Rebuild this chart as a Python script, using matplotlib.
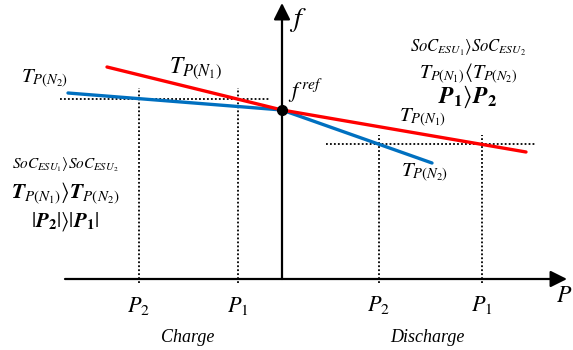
import matplotlib
matplotlib.use("Agg")
import matplotlib.pyplot as plt

plt.rcParams['mathtext.fontset'] = 'stix'
plt.rcParams['font.family'] = ['Liberation Serif', 'DejaVu Serif']

# ---- data (diagram units: P on x, f on y) ----
f_ref = 169
red_P = [-175, 0, 244]          # T_P(N1) droop line
red_f = [212, 169, 127]
blue_P = [-214, 0, 150]         # T_P(N2) droop line
blue_f = [186, 169, 116]

charge_P = [-143, -44]          # P2, P1 (charge)
charge_f = 180
discharge_P = [97, 200]         # P2, P1 (discharge)
discharge_f = 135
tick_labels_charge = [r'$P_2$', r'$P_1$']
tick_labels_discharge = [r'$P_2$', r'$P_1$']

fig = plt.figure(figsize=(5.73, 3.5), dpi=100)
ax = fig.add_axes([0, 0, 1, 1])
ax.set_xlim(-282, 291)
ax.set_ylim(-71, 279)
ax.axis('off')

# axes arrows
arrow_kw = dict(arrowstyle='-|>,head_length=0.5,head_width=0.25', lw=1.6,
                color='black', mutation_scale=20, shrinkA=0, shrinkB=0)
ax.annotate('', xy=(285, 0), xytext=(-217, 0), arrowprops=arrow_kw)
ax.annotate('', xy=(0, 276), xytext=(0, 0), arrowprops=arrow_kw)

# dotted guides
dot = dict(color='black', lw=1.3, linestyle=(0, (1.0, 1.2)))
ax.plot([-222, -12], [charge_f, charge_f], **dot)
ax.plot([44, 254], [discharge_f, discharge_f], **dot)
for p in charge_P:
    ax.plot([p, p], [-4, charge_f + 11], **dot)
for p in discharge_P:
    ax.plot([p, p], [-4, discharge_f + 9], **dot)

# droop lines
ax.plot(red_P, red_f, color='#FF0000', lw=2.4, solid_capstyle='round', zorder=3)
ax.plot(blue_P, blue_f, color='#0070C0', lw=2.4, solid_capstyle='round', zorder=2)
ax.plot([0], [f_ref], 'o', color='black', ms=7, zorder=4)

# labels
ax.text(16, 259, r'$f$', fontsize=20, ha='center', va='center')
ax.text(282, -18, r'$P$', fontsize=17, ha='center', va='center')
ax.text(6, 188, r'$f^{\,ref}$', fontsize=16, ha='left', va='center')
ax.text(-86, 211, r'$T_{P(N_1)}$', fontsize=17, ha='center', va='center')
ax.text(-237, 200, r'$T_{P(N_2)}$', fontsize=15, ha='center', va='center')
ax.text(141, 161, r'$T_{P(N_1)}$', fontsize=15, ha='center', va='center')
ax.text(143, 106, r'$T_{P(N_2)}$', fontsize=15, ha='center', va='center')

# condition blocks
ax.text(186, 231, r'$SoC_{ESU_1}\rangle SoC_{ESU_2}$', fontsize=12, ha='center', va='center')
ax.text(186, 205, r'$T_{P(N_1)}\langle T_{P(N_2)}$', fontsize=14.5, ha='center', va='center')
ax.text(186, 182, r'$\mathbfit{P}_{\mathbf{1}}\rangle \mathbfit{P}_{\mathbf{2}}$', fontsize=17, ha='center', va='center')

ax.text(-217, 114, r'$SoC_{ESU_1}\rangle SoC_{ESU_2}$', fontsize=11, ha='center', va='center')
ax.text(-217, 86, r'$\mathbfit{T}_{P(N_1)}\rangle \mathbfit{T}_{P(N_2)}$', fontsize=15.5, ha='center', va='center')
ax.text(-217, 57, r'$|\mathbfit{P}_{\mathbf{2}}|\rangle|\mathbfit{P}_{\mathbf{1}}|$', fontsize=15, ha='center', va='center')

# tick labels
for p, lab in zip(charge_P, tick_labels_charge):
    ax.text(p, -27, lab, fontsize=16, ha='center', va='center')
for p, lab in zip(discharge_P, tick_labels_discharge):
    ax.text(p, -26, lab, fontsize=16, ha='center', va='center')

ax.text(-94, -59, 'Charge', fontsize=13, style='italic', ha='center', va='center')
ax.text(145, -58, 'Discharge', fontsize=13, style='italic', ha='center', va='center')

fig.savefig('out.png', dpi=100)
